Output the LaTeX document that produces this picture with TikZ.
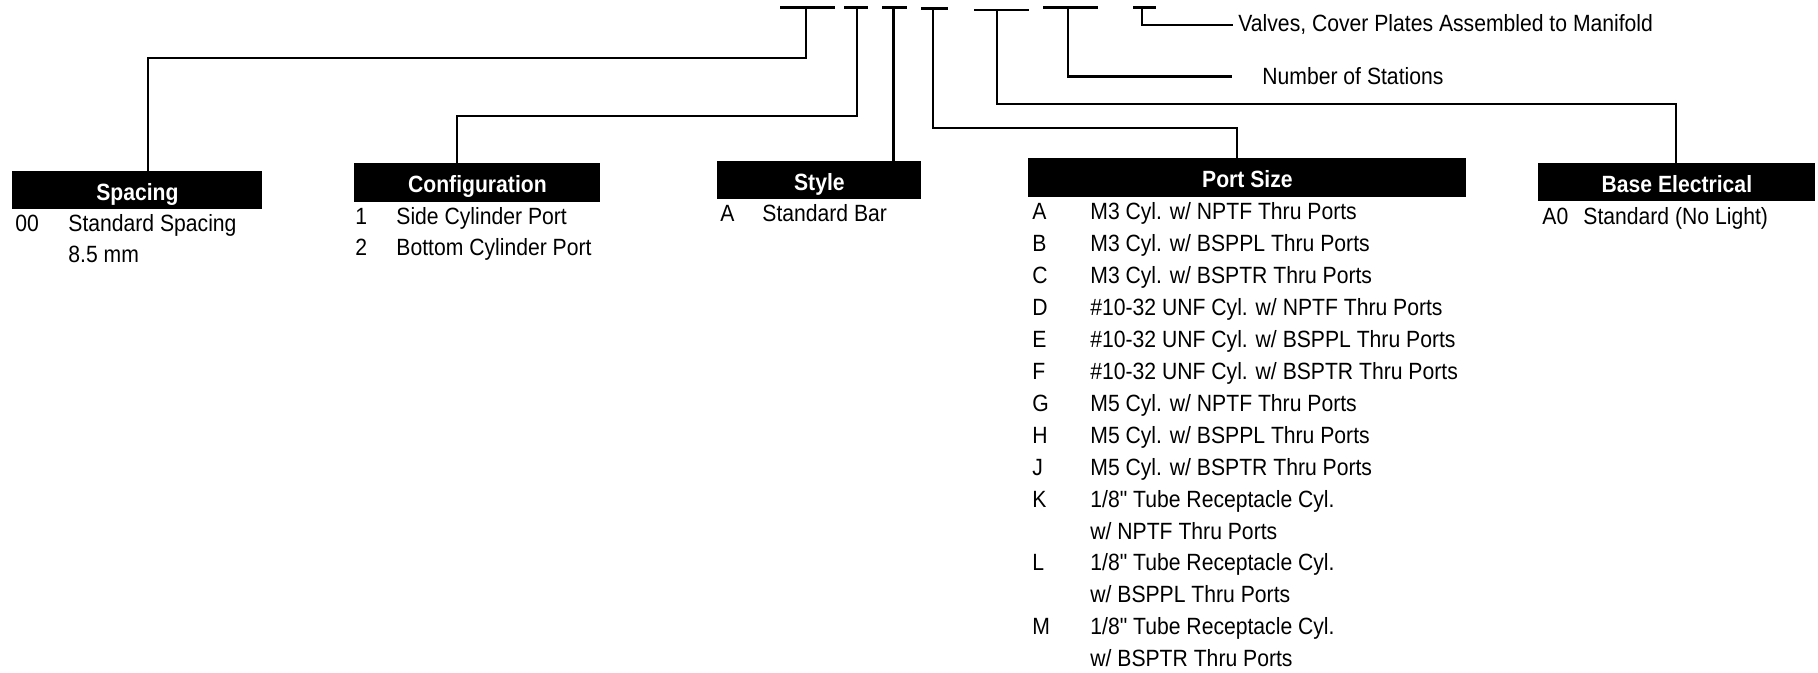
\documentclass[tikz,border=0pt]{standalone}
\usepackage{fontspec}
\setmainfont{Liberation Sans}[FakeStretch=0.9]
\newfontfamily\qfont{Liberation Sans}[FakeStretch=0.9,Ligatures=TeXOff]
\usetikzlibrary{calc}
\newcommand\prow[4]{%
  \node[body] (pc#1) at (1032,#2) {#3};
  \node[body] (pd#1) at (1090,#2) {#4};}
\newcommand\inch{{\qfont"}}
\begin{document}
\begin{tikzpicture}[x=0.5pt,y=-0.5pt,
  conn/.style={line width=1.3pt},
  hdr/.style={fill=black, text=white, inner sep=0pt, anchor=north west,
    font=\bfseries\fontsize{11.75}{14}\selectfont, text height=10pt, text depth=0pt},
  body/.style={anchor=base west, inner sep=0pt, font=\fontsize{11.75}{14}\selectfont}]
\useasboundingbox (0,0) rectangle (1818,673);

% header boxes
\node[hdr, minimum width=125pt, minimum height=19pt]   (spacing) at (12,171)   {Spacing};
\node[hdr, minimum width=123pt, minimum height=19.5pt] (config)  at (354,163)  {Configuration};
\node[hdr, minimum width=102pt, minimum height=19pt]   (style)   at (717,161)  {Style};
\node[hdr, minimum width=219pt, minimum height=19.5pt] (port)    at (1028,158) {Port Size};
\node[hdr, minimum width=138.5pt, minimum height=19pt] (base)    at (1538,163) {Base Electrical};

% top code bars
\draw[conn] (780,7.5) -- (835,7.5);
\draw[conn] (844,7.5) -- (868,7.5);
\draw[conn] (882,7.5) -- (907,7.5);
\draw[conn] (921,8.5) -- (948,8.5);
\draw[conn] (974,10) -- (1029,10);
\draw[conn] (1043,7.5) -- (1098,7.5);
\draw[conn] (1133,7.5) -- (1156,7.5);

\coordinate (s1) at (806,7.5);
\coordinate (s2) at (857,7.5);
\coordinate (s3) at (893.5,7.5);
\coordinate (s4) at (933,8.5);
\coordinate (s5) at (997,10);
\coordinate (s6) at (1068,7.5);
\coordinate (s7) at (1142,7.5);

% side labels
\node[body] (valves) at (1238,32) {Valves, Cover Plates Assembled to Manifold};
\node[body] (stations) at (1262,85) {Number of Stations};

% connectors
\draw[conn] (s1) -- ++(0,50.5) -| ([xshift=68pt]spacing.north west);
\draw[conn] (s2) -- ++(0,108.5) -| ([xshift=51.5pt]config.north west);
\draw[conn] (s3) -- (s3 |- style.north);
\draw[conn] (s4) -- ++(0,119.5) -| ([xshift=104.5pt]port.north west);
\draw[conn] (s5) -- ++(0,94) -| ([xshift=69pt]base.north west);
\draw[conn] (s6) |- ([xshift=-15pt]stations.west);
\draw[conn] (s7) |- ([xshift=-2.5pt]valves.west);

% spacing
\node[body] (sp0c) at (15,232) {00};
\node[body] (sp0d) at (68,232) {Standard Spacing};
\node[body] (sp1d) at (68,263) {8.5 mm};

% configuration
\node[body] (cf1c) at (355,225) {1};
\node[body] (cf1d) at (396,225) {Side Cylinder Port};
\node[body] (cf2c) at (355,255.5) {2};
\node[body] (cf2d) at (396,255.5) {Bottom Cylinder Port};

% style
\node[body] (stc) at (720,222) {A};
\node[body] (std) at (762,222) {Standard Bar};

% port size
\prow{1}{220}{A}{M3 Cyl. w/ NPTF Thru Ports}
\prow{2}{251.9}{B}{M3 Cyl. w/ BSPPL Thru Ports}
\prow{3}{283.8}{C}{M3 Cyl. w/ BSPTR Thru Ports}
\prow{4}{315.7}{D}{\#10-32 UNF Cyl. w/ NPTF Thru Ports}
\prow{5}{347.6}{E}{\#10-32 UNF Cyl. w/ BSPPL Thru Ports}
\prow{6}{379.5}{F}{\#10-32 UNF Cyl. w/ BSPTR Thru Ports}
\prow{7}{411.4}{G}{M5 Cyl. w/ NPTF Thru Ports}
\prow{8}{443.3}{H}{M5 Cyl. w/ BSPPL Thru Ports}
\prow{9}{475.2}{J}{M5 Cyl. w/ BSPTR Thru Ports}
\prow{10}{507.1}{K}{1/8\inch{} Tube Receptacle Cyl.}
\prow{11}{539}{}{w/ NPTF Thru Ports}
\prow{12}{570.9}{L}{1/8\inch{} Tube Receptacle Cyl.}
\prow{13}{602.8}{}{w/ BSPPL Thru Ports}
\prow{14}{634.7}{M}{1/8\inch{} Tube Receptacle Cyl.}
\prow{15}{666.6}{}{w/ BSPTR Thru Ports}

% base electrical
\node[body] (bec) at (1542,225) {A0};
\node[body] (bed) at (1583,225) {Standard (No Light)};
\end{tikzpicture}
\end{document}
